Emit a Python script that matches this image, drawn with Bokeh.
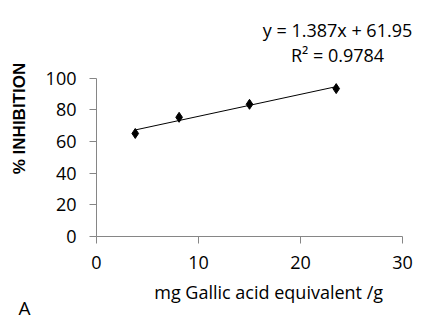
from bokeh.plotting import figure
from bokeh.models import Label, Range1d, FixedTicker, Title
from bokeh.embed import file_html
from bokeh.resources import INLINE

# data
gae = [3.8, 8.1, 15.0, 23.5]
inhibition = [65.0, 75.2, 83.4, 93.3]
slope = 1.387
intercept = 61.95
r_squared = 0.9784
x_ticks = [0, 10, 20, 30]
y_ticks = [0, 20, 40, 60, 80, 100]

FONT = "Open Sans"
PX_X = 10.2    # pixels per x unit
PX_Y = 1.585   # pixels per y unit

LEFT, BOTTOM = 96, 94
W, H = 445, 330
frame_w = W - LEFT
frame_h = H - BOTTOM

p = figure(width=W, height=H, output_backend="svg", toolbar_location=None,
           min_border_left=LEFT, min_border_right=0, min_border_top=0, min_border_bottom=BOTTOM,
           x_range=Range1d(0, frame_w / PX_X), y_range=Range1d(0, frame_h / PX_Y))
p.outline_line_color = None
p.xgrid.visible = False
p.ygrid.visible = False

fit_x = [min(gae), max(gae)]
fit_y = [slope * v + intercept for v in fit_x]
p.line(fit_x, fit_y, line_color="black", line_width=1)
p.scatter(gae, inhibition, marker="diamond", size=10, fill_color="black", line_color="black")

for ax in (p.xaxis[0], p.yaxis[0]):
    ax.axis_line_color = "#868686"
    ax.major_tick_line_color = "#868686"
    ax.minor_tick_line_color = None
    ax.major_tick_out = 7
    ax.major_tick_in = 0
    ax.major_label_text_font = FONT
    ax.major_label_text_font_size = "18px"
    ax.major_label_text_color = "black"
    ax.axis_label_text_color = "black"

p.xaxis.bounds = (0, 30)
p.yaxis.bounds = (0, 100)
p.xaxis.ticker = FixedTicker(ticks=x_ticks)
p.yaxis.ticker = FixedTicker(ticks=y_ticks)
p.xaxis.axis_label = "mg Gallic acid equivalent  /g"
p.yaxis.axis_label = "% INHIBITION"
p.xaxis.axis_label_text_font = FONT
p.xaxis.axis_label_text_font_size = "18px"
p.xaxis.axis_label_text_font_style = "normal"
p.yaxis.axis_label_text_font = "Liberation Sans"
p.yaxis.axis_label_text_font_size = "17px"
p.yaxis.axis_label_text_font_style = "bold"
p.xaxis.major_label_standoff = 12
p.yaxis.major_label_standoff = 13
p.xaxis.axis_label_standoff = 8
p.yaxis.axis_label_standoff = 14

eq = "y = %.3fx + %.2f" % (slope, intercept)
p.add_layout(Label(x=(337 - LEFT) / PX_X, y=(frame_h - 29) / PX_Y, text=eq,
                   text_align="center", text_baseline="middle",
                   text_font=FONT, text_font_size="18px", text_color="black"))
p.add_layout(Label(x=(337 - LEFT) / PX_X, y=(frame_h - 54) / PX_Y, text="R² = %.4f" % r_squared,
                   text_align="center", text_baseline="middle",
                   text_font=FONT, text_font_size="18px", text_color="black"))
p.add_layout(Title(text="A", align="left", offset=-78, standoff=-28,
                   text_font=FONT, text_font_size="19px", text_font_style="normal",
                   text_color="black"), "below")

open("out.html", "w").write(file_html(p, INLINE))
